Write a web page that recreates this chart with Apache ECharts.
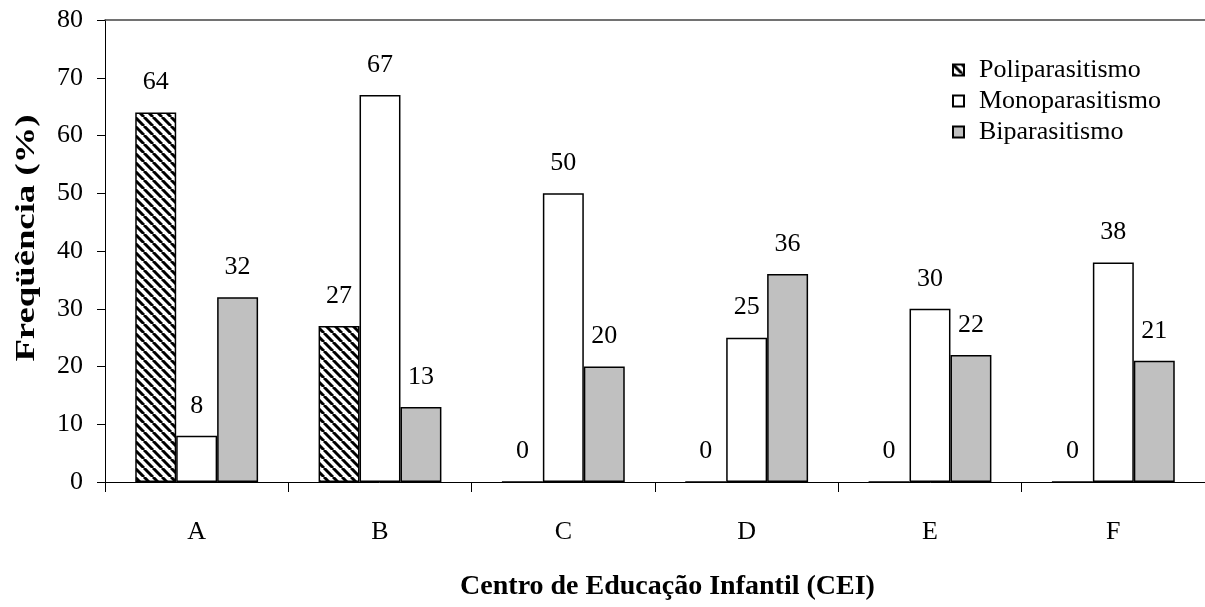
<!DOCTYPE html>
<html lang="pt">
<head>
    <meta charset="UTF-8">
    <title>Frequência de parasitismo por CEI</title>
    <script src="https://cdn.jsdelivr.net/npm/echarts@6/dist/echarts.min.js"></script>
    <style>
        html, body { margin: 0; padding: 0; background: #ffffff; }
        #box1 { width: 1205px; height: 607px; }
    </style>
</head>
<body>
<div id="box1"></div>
<script>
    var categorias = ['A', 'B', 'C', 'D', 'E', 'F'];
    var poliparasitismo = [64, 27, 0, 0, 0, 0];
    var monoparasitismo = [8, 67, 50, 25, 30, 38];
    var biparasitismo = [32, 13, 20, 36, 22, 21];
    var yTicks = [0, 10, 20, 30, 40, 50, 60, 70, 80];

    // hachura diagonal para o poliparasitismo
    var cv = document.createElement('canvas');
    cv.width = 9;
    cv.height = 9;
    var ctx = cv.getContext('2d');
    ctx.fillStyle = '#ffffff';
    ctx.fillRect(0, 0, 9, 9);
    ctx.strokeStyle = '#000000';
    ctx.lineWidth = 3;
    for (var k = -9; k <= 9; k += 9) {
        ctx.beginPath();
        ctx.moveTo(k, 0);
        ctx.lineTo(k + 9, 9);
        ctx.stroke();
    }

    var fonte = 'Liberation Serif';
    var rotulo = {
        show: true,
        position: 'top',
        distance: 17,
        color: '#000',
        fontSize: 26,
        fontFamily: fonte
    };

    var mycharts1 = echarts.init(document.getElementById('box1'));
    var option = {
        animation: false,
        textStyle: { fontFamily: fonte, color: '#000' },
        grid: { left: 105, right: 0, top: 20, bottom: 125 },
        legend: {
            orient: 'vertical',
            left: 947,
            top: 52,
            icon: 'rect',
            itemWidth: 11,
            itemHeight: 11,
            itemGap: 5,
            textStyle: { fontSize: 26, fontFamily: fonte, color: '#000', lineHeight: 26, padding: [0, 0, 0, 10] },
            data: ['Poliparasitismo', 'Monoparasitismo', 'Biparasitismo']
        },
        // titulo do eixo y, esticado como no original
        graphic: [{
            type: 'text',
            x: 27,
            y: 238,
            rotation: Math.PI / 2,
            scaleX: 1.36,
            style: {
                text: 'Freqüência (%)',
                fontSize: 27,
                fontWeight: 'bold',
                fontFamily: fonte,
                fill: '#000',
                align: 'center',
                verticalAlign: 'middle'
            }
        }],
        xAxis: [{
            type: 'category',
            data: categorias,
            name: 'Centro de Educação Infantil (CEI)',
            nameLocation: 'middle',
            nameGap: 91,
            nameTextStyle: { fontSize: 28, fontWeight: 'bold', fontFamily: fonte, color: '#000', padding: [0, 0, 0, 25] },
            axisLine: { lineStyle: { color: '#000', width: 1 } },
            axisTick: { show: true, length: 10, lineStyle: { color: '#000' } },
            axisLabel: { fontSize: 26, color: '#000', margin: 37, fontFamily: fonte }
        }, {
            type: 'category',
            data: categorias,
            position: 'top',
            axisLine: { show: true, lineStyle: { color: '#444', width: 1.5 } },
            axisTick: { show: false },
            axisLabel: { show: false }
        }],
        yAxis: {
            type: 'value',
            min: yTicks[0],
            max: yTicks[yTicks.length - 1],
            interval: 10,
            axisLine: { show: true, lineStyle: { color: '#000', width: 1 } },
            axisTick: { show: true, length: 8, lineStyle: { color: '#000' } },
            axisLabel: { fontSize: 26, color: '#000', margin: 22, fontFamily: fonte },
            splitLine: { show: false }
        },
        series: [{
            name: 'Poliparasitismo',
            type: 'bar',
            data: poliparasitismo,
            barGap: '0%',
            barCategoryGap: '33%',
            itemStyle: { color: { image: cv, repeat: 'repeat' }, borderColor: '#000', borderWidth: 1.5 },
            label: rotulo
        }, {
            name: 'Monoparasitismo',
            type: 'bar',
            data: monoparasitismo,
            barGap: '0%',
            barCategoryGap: '33%',
            itemStyle: { color: '#ffffff', borderColor: '#000', borderWidth: 1.5 },
            label: rotulo
        }, {
            name: 'Biparasitismo',
            type: 'bar',
            data: biparasitismo,
            barGap: '0%',
            barCategoryGap: '33%',
            itemStyle: { color: '#c0c0c0', borderColor: '#000', borderWidth: 1.5 },
            label: rotulo
        }]
    };
    mycharts1.setOption(option);
</script>
</body>
</html>
